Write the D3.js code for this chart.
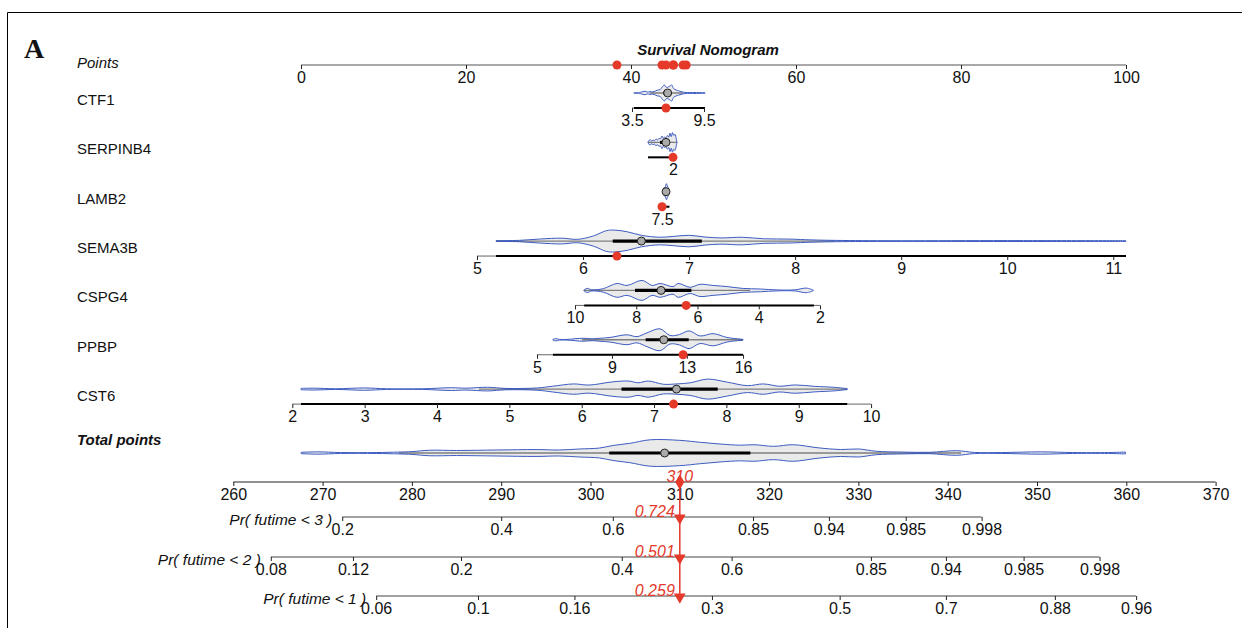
<!DOCTYPE html>
<html>
<head>
<meta charset="utf-8">
<script src="https://cdn.jsdelivr.net/npm/d3@7/dist/d3.min.js"></script>
<style>
  body { margin: 0; background: #fff; }
  text { font-family: "Liberation Sans", Arial, sans-serif; font-size: 15px; fill: #111; }
</style>
</head>
<body>
<div class="svgContainer"></div>
<script>
/* ---- data ---- */
var pointsTicks = [0, 20, 40, 60, 80, 100];
var totalTicks = [260, 270, 280, 290, 300, 310, 320, 330, 340, 350, 360, 370];

var varNames = ["CTF1", "SERPINB4", "LAMB2", "SEMA3B", "CSPG4", "PPBP", "CST6"];
var varTicks = [[3.5, 9.5], [2], [7.5], [5, 6, 7, 8, 9, 10, 11], [10, 8, 6, 4, 2], [5, 9, 13, 16], [2, 3, 4, 5, 6, 7, 8, 9, 10]];
/* value -> points mapping (two anchors per variable) */
var varDomain = [[3.5, 9.5], [0, 2], [7.5, 9.5], [5, 11.12], [10, 2], [5, 16], [2.12, 10]];
var varPoints = [[40.12, 48.85], [42.06, 45.09], [43.76, 44.61], [21.33, 100], [33.21, 62.91], [28.61, 53.58], [0, 69.1]];
/* the patient that is marked in red */
var varValue = [6.33, 2.0, 7.5, 6.32, 6.37, 12.8, 7.27];
/* min, lower whisker, q1, median, q3, upper whisker, max */
var varStats = [
  [3.67, 5.0, 6.1, 6.47, 6.8, 7.75, 9.58],
  [0, 0, 0.96, 1.44, 1.76, 2.32, 2.32],
  [7.5, 7.75, 8.3, 8.64, 9.0, 9.6, 9.6],
  [5.18, 5.18, 6.28, 6.55, 7.12, 8.37, 11.12],
  [2.2, 4.28, 6.2, 7.19, 8.04, 9.7, 9.7],
  [5.85, 7.4, 10.8, 11.77, 13.1, 16, 16],
  [2.12, 4.58, 6.55, 7.31, 7.88, 9.67, 9.67]
];
/* violin outlines: [value, density] */
var varDensity = [
  [[3.67,0.3],[4.2,0.6],[4.58,1.5],[4.8,0.8],[5.0,1.2],[5.25,1],[5.62,2.5],[5.85,3],[6.0,5],[6.2,7],[6.35,5],[6.47,5],[6.65,6],[6.8,7],[6.95,4],[7.08,3],[7.5,1.5],[7.92,0.5],[8.75,0.4],[9.58,0.3]],
  [[0.0,0.3],[0.08,1.5],[0.16,2.5],[0.28,1.2],[0.4,2],[0.52,1.5],[0.64,3],[0.76,2],[0.88,3.5],[1.0,3],[1.12,5.5],[1.22,3.5],[1.32,4.5],[1.44,4],[1.56,6],[1.66,4.5],[1.76,8],[1.86,5],[1.96,8.5],[2.06,6],[2.16,7],[2.26,3],[2.32,0.3]],
  [[7.7,0.3],[8.0,2],[8.2,4],[8.4,3],[8.6,6],[8.8,7],[9.0,5],[9.2,4],[9.4,2],[9.6,0.3]],
  [[5.18,0.3],[5.4,0.6],[5.6,1.8],[5.8,2.5],[5.95,1.5],[6.1,4.5],[6.22,9],[6.3,9.5],[6.42,8],[6.55,5],[6.72,3.3],[6.85,4],[7.0,5],[7.15,3.5],[7.3,2.7],[7.5,3.3],[7.7,2],[7.95,1.7],[8.15,1],[8.45,0.5],[9.0,0.3],[10.0,0.4],[11.12,0.3]],
  [[9.71,0.3],[9.6,1.8],[9.45,0.5],[9.08,1.5],[8.63,6],[8.3,4.3],[7.81,8.7],[7.48,4.3],[7.22,6],[6.8,3.3],[6.63,6],[6.24,2.7],[5.92,5.3],[5.49,4.3],[5.03,3.3],[4.51,1.7],[3.95,1.2],[3.4,0.4],[2.81,0.5],[2.45,2],[2.22,0.3]],
  [[5.85,0.3],[6.0,1],[6.2,0.3],[6.6,0.3],[7.46,1.3],[7.94,0.8],[8.36,1.3],[8.9,2],[9.8,4.3],[10.34,2.7],[10.87,6],[11.57,9.5],[12.1,3.7],[12.6,4.5],[13.12,7.7],[13.7,3.3],[14.4,5.3],[15.14,2],[15.84,0.6],[16,0.3]],
  [[2.12,0.6],[2.3,0.8],[2.6,0.3],[3.0,1],[3.3,0.3],[3.8,0.3],[4.2,1.2],[4.4,0.8],[4.7,1.6],[4.95,0.6],[5.39,1],[5.6,2.5],[5.89,4.5],[6.1,3.5],[6.43,6.3],[6.65,7],[6.78,5.5],[6.92,7],[7.13,4.2],[7.31,4.5],[7.5,5.5],[7.74,8.7],[8.0,6.2],[8.29,3],[8.51,4.5],[8.73,2.5],[8.95,3.6],[9.22,2.4],[9.5,1.5],[9.67,0.4]]
];

/* total points distribution */
var totalStats = [267.6, 278.5, 302.1, 308.3, 317.9, 341.5, 359.9];
var totalDensity = [[267.6,0.6],[269.5,1],[272,0.4],[276,0.4],[278.5,0.8],[280,1.2],[282,2.4],[285,2.2],[289.5,2.6],[294,3],[296.5,2.6],[298.8,3.5],[301,4.3],[302.5,6.5],[304.4,8.4],[306.7,11.5],[310,11],[312.3,9.3],[314.5,7.8],[316.8,6.8],[318.3,7.2],[320.5,5.8],[322.7,7.2],[325.5,4.5],[328,3],[330,3.5],[332,1.5],[335,0.8],[338,0.6],[341,2],[343,0.5],[346,0.4],[350.5,1],[354,0.4],[358,0.4],[359.9,0.8]];

/* probability axes: tick labels and the total points they sit at */
var probLabels = ["Pr( futime < 3 )", "Pr( futime < 2 )", "Pr( futime < 1 )"];
var probTicks = [
  ["0.2", "0.4", "0.6", "0.85", "0.94", "0.985", "0.998"],
  ["0.08", "0.12", "0.2", "0.4", "0.6", "0.85", "0.94", "0.985", "0.998"],
  ["0.06", "0.1", "0.16", "0.3", "0.5", "0.7", "0.88", "0.96"]
];
var probTickPoints = [
  [272.2, 290.0, 302.5, 318.2, 326.7, 335.3, 343.8],
  [264.2, 273.4, 285.5, 303.5, 315.8, 331.4, 339.8, 348.5, 357.0],
  [276.0, 287.4, 298.2, 313.6, 327.9, 339.8, 352.0, 361.1]
];
var predProb = ["0.724", "0.501", "0.259"];

/* ---- layout ---- */
var canvas_width = 1242,
    canvas_height = 628,
    label_x = 77,
    red = "#e5392a",
    blue = "#3d5cc2";

var pointsAxisY = 65,
    rowAxisY = varNames.map(function(d, i) { return 108 + i * 49.35; }),
    totalLabelY = 445,
    totalViolinY = 453,
    totalAxisY = 482,
    probAxisY = [517, 557, 596];

var svg = d3.select(".svgContainer")
  .append("svg")
    .attr("width", canvas_width)
    .attr("height", canvas_height);

/* frame round the panel */
svg.append("path")
  .attr("d", "M7.5," + canvas_height + " V12.5 H" + canvas_width)
  .attr("fill", "none")
  .attr("stroke", "#000")
  .attr("stroke-width", 1);

svg.append("text")
  .attr("x", 24).attr("y", 58)
  .style("font-family", "'Liberation Serif', 'Times New Roman', serif")
  .style("font-size", "28px")
  .style("font-weight", "bold")
  .text("A");

svg.append("text")
  .attr("x", 708).attr("y", 55)
  .attr("text-anchor", "middle")
  .style("font-weight", "bold")
  .style("font-style", "italic")
  .text("Survival Nomogram");

var pointsScale = d3.scaleLinear().domain([0, 100]).range([301, 1126]);
var totalScale = d3.scaleLinear().domain([260, 370]).range([233.3, 1215.6]);
var densScale = d3.scaleLinear().domain([0, 10]).range([0, 11.5]);

/* helper: bottom axis with short ticks and no default domain path */
function drawAxis(scale, ticks, y, fmt) {
  var axis = d3.axisBottom(scale)
    .tickValues(ticks)
    .tickSizeInner(4)
    .tickSizeOuter(0)
    .tickFormat(fmt || function(d) { return d; });
  var g = svg.append("g")
    .attr("transform", "translate(0," + y + ")")
    .call(axis);
  g.select(".domain").remove();
  g.selectAll(".tick line").attr("stroke", "#222");
  g.selectAll(".tick text")
    .attr("fill", "#111")
    .attr("dy", "0.68em")
    .style("font-family", "'Liberation Sans', Arial, sans-serif")
    .style("font-size", "16px");
  return g;
}

function hline(x1, x2, y, color, width) {
  svg.append("line")
    .attr("x1", x1).attr("x2", x2)
    .attr("y1", y).attr("y2", y)
    .attr("stroke", color)
    .attr("stroke-width", width);
}

/* violin + box for a distribution */
function drawViolin(xs, dens, stats, cy) {
  var area = d3.area()
    .x(function(d) { return xs(d[0]); })
    .y0(function(d) { return cy - densScale(d[1]); })
    .y1(function(d) { return cy + densScale(d[1]); })
    .curve(d3.curveCatmullRom);
  /* whisker line drawn first so the fill dims it */
  hline(xs(stats[1]), xs(stats[5]), cy, "#111", 1.3);
  svg.append("path")
    .datum(dens.slice().sort(function(a, b) { return xs(a[0]) - xs(b[0]); }))
    .attr("d", area)
    .attr("fill", "#d8d8d8")
    .attr("fill-opacity", 0.55)
    .attr("stroke", blue)
    .attr("stroke-width", 1);
  hline(xs(stats[2]), xs(stats[4]), cy, "#000", 3.2);
  svg.append("circle")
    .attr("cx", xs(stats[3])).attr("cy", cy)
    .attr("r", 4)
    .attr("fill", "#aaaaaa")
    .attr("stroke", "#222")
    .attr("stroke-width", 1);
}

/* ---- Points axis ---- */
svg.append("text")
  .attr("x", label_x).attr("y", pointsAxisY + 3)
  .style("font-style", "italic")
  .text("Points");
hline(pointsScale(0), pointsScale(100), pointsAxisY, "#555", 1.2);
drawAxis(pointsScale, pointsTicks, pointsAxisY);

/* ---- variable rows ---- */
var totalPoints = 0;
var markerPoints = [];
varNames.forEach(function(name, i) {
  var y = rowAxisY[i];
  var toPoints = d3.scaleLinear().domain(varDomain[i]).range(varPoints[i]);
  var xs = d3.scaleLinear().domain(varDomain[i]).range(varPoints[i].map(pointsScale));
  var st = varStats[i];
  var tk = varTicks[i];

  svg.append("text")
    .attr("x", label_x).attr("y", y - 3)
    .text(name);

  drawViolin(xs, varDensity[i], st, y - 15);

  /* axis: thin line over the whole extent, heavy line over the data range */
  var ext = d3.extent(tk.map(xs).concat([xs(st[0]), xs(st[6])]));
  hline(ext[0], ext[1], y, "#666", 1);
  hline(Math.min(xs(st[0]), xs(st[6])), Math.max(xs(st[0]), xs(st[6])), y, "#000", 2);
  drawAxis(xs, tk, y);

  var p = toPoints(varValue[i]);
  totalPoints += p;
  markerPoints.push(p);

  svg.append("circle")
    .attr("cx", xs(varValue[i])).attr("cy", y)
    .attr("r", 4.5)
    .attr("fill", red);
});

/* red points on the Points axis */
svg.selectAll(".ptmark")
  .data(markerPoints)
  .enter()
  .append("circle")
    .attr("class", "ptmark")
    .attr("cx", function(d) { return pointsScale(d); })
    .attr("cy", pointsAxisY)
    .attr("r", 4.5)
    .attr("fill", red);

/* ---- Total points ---- */
svg.append("text")
  .attr("x", label_x).attr("y", totalLabelY)
  .style("font-weight", "bold")
  .style("font-style", "italic")
  .text("Total points");
drawViolin(totalScale, totalDensity, totalStats, totalViolinY);
hline(totalScale(260), totalScale(370), totalAxisY, "#222", 1.2);
drawAxis(totalScale, totalTicks, totalAxisY);

/* ---- probability axes ---- */
probLabels.forEach(function(lab, j) {
  var y = probAxisY[j];
  var tp = probTickPoints[j];
  hline(totalScale(tp[0]), totalScale(tp[tp.length - 1]), y, "#444", 1.2);
  drawAxis(totalScale, tp, y, function(d, k) { return probTicks[j][k]; });
  svg.append("text")
    .attr("x", totalScale(tp[0]) - 10).attr("y", y + 8)
    .attr("text-anchor", "end")
    .style("font-style", "italic")
    .style("font-size", "15.5px")
    .text(lab);
});

/* ---- red prediction path ---- */
var tx = totalScale(Math.round(totalPoints));
svg.append("line")
  .attr("x1", tx).attr("x2", tx)
  .attr("y1", totalAxisY).attr("y2", probAxisY[2])
  .attr("stroke", red)
  .attr("stroke-width", 1.5);

svg.append("path")
  .attr("d", d3.symbol(d3.symbolDiamond, 70)())
  .attr("transform", "translate(" + tx + "," + totalAxisY + ")")
  .attr("fill", red);

svg.append("text")
  .attr("x", tx).attr("y", totalAxisY)
  .attr("text-anchor", "middle")
  .style("font-style", "italic")
  .style("font-size", "16px")
  .style("fill", red)
  .text(Math.round(totalPoints));

probAxisY.forEach(function(y, j) {
  svg.append("path")
    .attr("d", d3.symbol(d3.symbolTriangle, 60)())
    .attr("transform", "translate(" + tx + "," + (y + 1) + ") rotate(180)")
    .attr("fill", red);
  svg.append("text")
    .attr("x", tx - 5).attr("y", y)
    .attr("text-anchor", "end")
    .style("font-style", "italic")
    .style("font-size", "16px")
    .style("fill", red)
    .text(predProb[j]);
});
</script>
</body>
</html>
